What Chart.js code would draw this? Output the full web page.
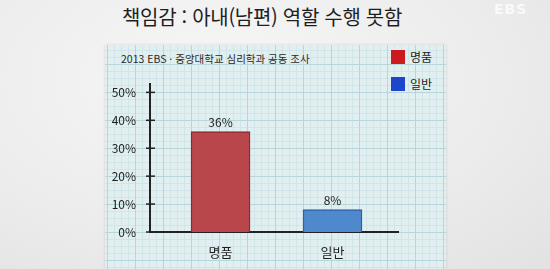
<!DOCTYPE html>
<html lang="ko">
<head>
<meta charset="UTF-8">
<title>책임감 : 아내(남편) 역할 수행 못함</title>
<style>
  body { margin: 0; width: 550px; height: 269px; overflow: hidden;
         background: radial-gradient(ellipse at 40% 30%, #f7f7f7 0%, #ececec 60%, #e2e2e2 100%);
         font-family: 'Noto Sans CJK KR', 'Noto Sans', sans-serif; }
  .wrap { position: relative; width: 550px; height: 269px; }
  .title { position: absolute; left: 0; width: 524px; top: 2px; text-align: center;
           font-size: 20px; font-weight: 400; color: #1e1e1e; letter-spacing: -0.3px; }
  .ebs { position: absolute; left: 494px; top: 1px; font-family: 'DejaVu Sans', sans-serif;
         font-weight: bold; font-size: 14px; color: rgba(255,255,255,0.75); letter-spacing: 1px; }
  .paper { position: absolute; left: 105px; top: 45px; width: 341px; height: 224px;
           background-color: #e1eff1;
           background-image:
             linear-gradient(to right, #b8d5dc 1px, transparent 1px),
             linear-gradient(to bottom, #b8d5dc 1px, transparent 1px),
             linear-gradient(to right, #d2e6ea 1px, transparent 1px),
             linear-gradient(to bottom, #d2e6ea 1px, transparent 1px);
           background-size: 28px 28px, 28px 28px, 7px 7px, 7px 7px;
           background-position: 2px 19px, 2px 19px, 2px 19px, 2px 19px;
           box-shadow: 0 0 3px rgba(0,0,0,0.12); }
  .sub { position: absolute; left: 121px; top: 51px; font-size: 10.5px; color: #2a2a2a; }
  .legend { position: absolute; left: 391px; top: 50px; }
  .legend div { height: 14px; margin-bottom: 13px; font-size: 12px; color: #1e1e1e; line-height: 14px; white-space: nowrap; }
  .legend span { display: inline-block; width: 14px; height: 14px; vertical-align: top; margin-right: 5px; }
  canvas { position: absolute; left: 0; top: 0; }
</style>
</head>
<body>
<div class="wrap">
  <div class="paper"></div>
  <div class="title">책임감 : 아내(남편) 역할 수행 못함</div>
  <div class="ebs">EBS</div>
  <div class="sub">2013 EBS · 중앙대학교 심리학과 공동 조사</div>
  <div class="legend" id="legend"></div>
  <canvas id="chart" width="550" height="269"></canvas>
</div>
<script src="https://cdn.jsdelivr.net/npm/chart.js"></script>
<script>
const categories = ['명품', '일반'];
const values = [36, 8];
const yTicks = [0, 10, 20, 30, 40, 50];
const legendColors = ['#cc1b1f', '#1c46cc'];
const barColors = ['#b8464a', '#4d89cc'];
const barBorders = ['#8f2a2f', '#2d62a8'];

// legend in html
const legend = document.getElementById('legend');
categories.forEach((c, i) => {
  const d = document.createElement('div');
  d.innerHTML = '<span style="background:' + legendColors[i] + '"></span>' + c;
  legend.appendChild(d);
});

// value labels above the bars + tick marks crossing the y axis
const extras = {
  id: 'extras',
  afterDatasetsDraw(chart) {
    const ctx = chart.ctx;
    const meta = chart.getDatasetMeta(0);
    const y = chart.scales.y;
    ctx.save();
    ctx.strokeStyle = '#222';
    ctx.lineWidth = 1.5;
    yTicks.forEach(v => {
      const py = y.getPixelForValue(v);
      ctx.beginPath();
      ctx.moveTo(y.right - 4, py);
      ctx.lineTo(y.right + 5, py);
      ctx.stroke();
    });
    ctx.font = '12px "Noto Sans CJK KR", sans-serif';
    ctx.fillStyle = '#1e1e1e';
    ctx.textAlign = 'center';
    ctx.textBaseline = 'middle';
    meta.data.forEach((el, i) => {
      ctx.fillText(values[i] + '%', el.x, el.y - 9);
    });
    ctx.restore();
  }
};

new Chart(document.getElementById('chart'), {
  type: 'bar',
  data: {
    datasets: [{
      data: values.map((v, i) => ({ x: i + 1, y: v })),
      backgroundColor: barColors,
      borderColor: barBorders,
      borderWidth: 1.5,
      barThickness: 59
    }]
  },
  options: {
    responsive: false,
    animation: false,
    events: [],
    layout: { padding: { left: 0, right: 152, top: 84, bottom: 0 } },
    plugins: { legend: { display: false }, tooltip: { enabled: false } },
    scales: {
      x: {
        type: 'linear',
        offset: false,
        min: 0.37,
        max: 2.585,
        afterFit: s => { s.height = 37; },
        afterBuildTicks: s => { s.ticks = categories.map((c, i) => ({ value: i + 1 })); },
        ticks: {
          callback: v => categories[v - 1],
          font: { size: 13, family: '"Noto Sans CJK KR", sans-serif' },
          color: '#1e1e1e',
          padding: 4,
          maxRotation: 0
        },
        grid: { display: false },
        border: { display: true, color: '#222', width: 2 }
      },
      y: {
        min: 0,
        max: 53,
        afterFit: s => { s.width = 150; },
        afterBuildTicks: s => { s.ticks = yTicks.map(v => ({ value: v })); },
        ticks: {
          callback: v => v + '%',
          font: { size: 12, family: '"Noto Sans CJK KR", sans-serif' },
          color: '#1e1e1e',
          padding: 6
        },
        grid: { display: false },
        border: { display: true, color: '#222', width: 2 }
      }
    }
  },
  plugins: [extras]
});
</script>
</body>
</html>
